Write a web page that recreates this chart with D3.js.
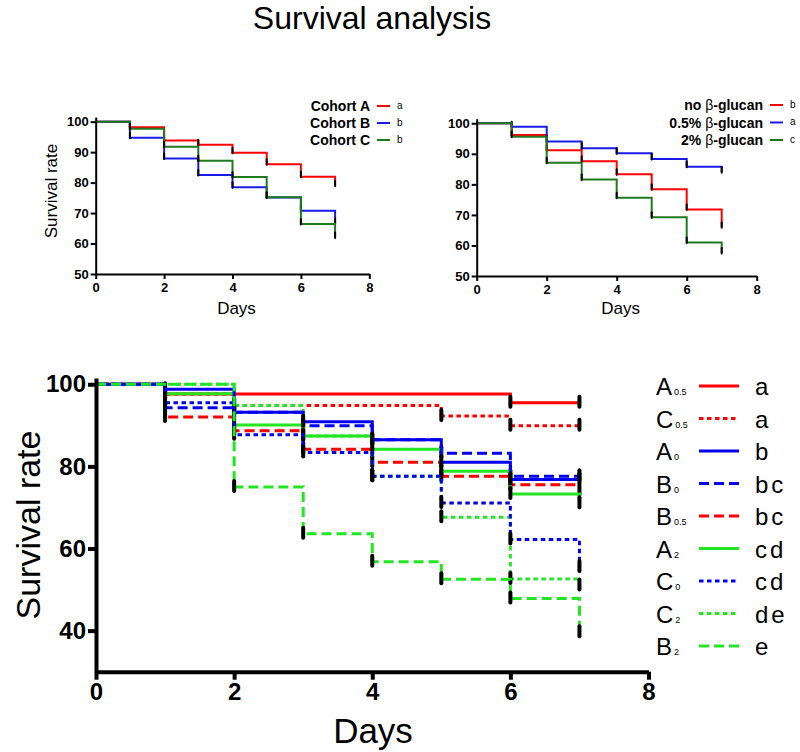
<!DOCTYPE html>
<html><head><meta charset="utf-8">
<script src="https://cdn.jsdelivr.net/npm/d3@7"></script>
<style>
body{margin:0;background:#fff}
svg{display:block}
text{font-family:Arial,"Liberation Sans",sans-serif;fill:#000}
</style>
</head><body>
<svg id="chart" width="800" height="752"></svg>
<script>
// ---------- DATA ----------
// each series: value on [0,1), [1,2), ... [6,7), then final value at day 7
const stepDays = [0, 1, 2, 3, 4, 5, 6, 7];

// top-left panel
const cohortNames = ["Cohort A", "Cohort B", "Cohort C"];
const cohortLetters = ["a", "b", "b"];
const cohortA = [100, 98.2, 93.8, 92.4, 89.8, 86.0, 81.9, 79.0];
const cohortB = [100, 94.7, 87.9, 82.5, 78.5, 75.1, 70.8, 66.5];
const cohortC = [100, 97.7, 91.8, 87.2, 81.8, 75.2, 66.4, 62.0];

// top-right panel
const glucanNames = ["no \u03b2-glucan", "0.5% \u03b2-glucan", "2% \u03b2-glucan"];
const glucanLetters = ["b", "a", "c"];
const glucanNone = [100, 96.2, 91.2, 87.6, 83.3, 78.4, 71.8, 66.0];
const glucan05 = [100, 98.9, 94.0, 91.8, 90.2, 88.3, 85.8, 84.0];
const glucan2 = [100, 95.6, 87.1, 81.6, 75.6, 69.2, 61.0, 57.5];

// bottom panel (legend order)
const groupMain = ["A", "C", "A", "B", "B", "A", "C", "C", "B"];
const groupSub = ["0.5", "0.5", "0", "0", "0.5", "2", "0", "2", "2"];
const groupLetters = ["a", "a", "b", "bc", "bc", "cd", "cd", "de", "e"];
const A05 = [100, 97.6, 97.6, 97.6, 97.6, 97.6, 95.5, 95.5];
const C05 = [100, 97.6, 94.8, 94.8, 94.8, 92.3, 89.9, 89.9];
const A0 = [100, 98.8, 93.2, 90.9, 86.5, 81.0, 76.8, 76.8];
const B0 = [100, 94.3, 93.2, 89.9, 86.5, 83.2, 77.6, 77.6];
const B05 = [100, 92.0, 88.7, 84.2, 81.0, 77.6, 75.5, 74.0];
const A2 = [100, 97.7, 90.1, 87.4, 84.2, 78.8, 73.3, 71.0];
const C0 = [100, 95.5, 87.7, 83.4, 77.6, 71.1, 62.2, 55.5];
const C2 = [100, 100, 94.8, 87.4, 77.6, 67.6, 52.6, 51.0];
const B2 = [100, 100, 75.0, 63.6, 56.8, 52.5, 47.8, 39.6];

const topYTicks = [50, 60, 70, 80, 90, 100];
const bottomYTicks = [40, 60, 80, 100];
const xTicks = [0, 2, 4, 6, 8];

// ---------- DRAWING ----------
const svg = d3.select("#chart");
const RED = "#ff0000", BLUE = "#1a1ae6", DGREEN = "#1f7a1f";
const BRED = "#ff0000", BBLUE = "#0000f0", BGREEN = "#22e622";

svg.append("text").attr("x", 372).attr("y", 29).attr("text-anchor", "middle")
  .style("font-size", "32px").text("Survival analysis");

function drawSeries(g, x, y, vals, color, width, dash, tickW, tickUp, tickDown) {
  const pts = stepDays.map((d, i) => [d, vals[i]]);
  const line = d3.line().x(p => x(p[0])).y(p => y(p[1])).curve(d3.curveStepAfter);
  g.append("path").attr("d", line(pts)).attr("fill", "none")
    .attr("stroke", color).attr("stroke-width", width)
    .attr("stroke-dasharray", dash || null);
  const marks = [];
  for (let i = 1; i < pts.length; i++) {
    if (vals[i] < vals[i - 1] || i === pts.length - 1) marks.push(pts[i]);
  }
  g.selectAll(null).data(marks).enter().append("line")
    .attr("x1", p => x(p[0])).attr("x2", p => x(p[0]))
    .attr("y1", p => y(p[1]) - tickUp).attr("y2", p => y(p[1]) + tickDown)
    .attr("stroke", "#000").attr("stroke-width", tickW).attr("stroke-linecap", "round");
}

function topPanel(x0, x1, yBottom, yTop, series, colors, names, letters, legendRight, legendY, withYLabel) {
  const x = d3.scaleLinear().domain([0, 8]).range([x0, x1]);
  const y = d3.scaleLinear().domain([50, 101.5]).range([yBottom, yTop]);
  const g = svg.append("g");
  series.forEach((s, i) => drawSeries(g, x, y, s, colors[i], 2, null, 2, 5, 0.5));
  const ya = svg.append("g").attr("transform", `translate(${x0},0)`)
    .call(d3.axisLeft(y).tickValues(topYTicks).tickSize(5).tickSizeOuter(0).tickPadding(2));
  const xa = svg.append("g").attr("transform", `translate(0,${yBottom})`)
    .call(d3.axisBottom(x).tickValues(xTicks).tickSize(5).tickSizeOuter(0).tickPadding(4));
  [ya, xa].forEach(a => {
    a.select(".domain").attr("stroke", "#000").attr("stroke-width", 2);
    a.selectAll(".tick line").attr("stroke", "#000").attr("stroke-width", 2);
    a.selectAll(".tick text").style("font-size", "13px").style("font-weight", "bold")
      .style("font-family", "Arial, 'Liberation Sans', sans-serif").attr("fill", "#000");
  });
  svg.append("text").attr("x", (x0 + x1) / 2 + 4).attr("y", 314).attr("text-anchor", "middle")
    .style("font-size", "17px").text("Days");
  if (withYLabel) {
    svg.append("text").attr("transform", `translate(57,191) rotate(-90)`).attr("text-anchor", "middle")
      .style("font-size", "17px").text("Survival rate");
  }
  names.forEach((n, i) => {
    const ly = legendY[i];
    const parts = n.split("\u03b2");
    const t = svg.append("text").attr("x", legendRight).attr("y", ly + 5).attr("text-anchor", "end")
      .style("font-size", "14px").style("font-weight", "bold");
    if (parts.length > 1) {
      t.append("tspan").text(parts[0]);
      t.append("tspan").style("font-weight", "normal").text("\u03b2");
      t.append("tspan").text(parts[1]);
    } else t.text(n);
    svg.append("line").attr("x1", legendRight + 7).attr("x2", legendRight + 20)
      .attr("y1", ly).attr("y2", ly).attr("stroke", colors[i]).attr("stroke-width", 2);
    svg.append("text").attr("x", legendRight + 27).attr("y", ly + 2.5)
      .style("font-size", "10px").text(letters[i]);
  });
}

topPanel(95.7, 369.3, 274, 117.1, [cohortA, cohortB, cohortC], [RED, BLUE, DGREEN],
  cohortNames, cohortLetters, 370, [106, 123, 140], true);
topPanel(476.7, 756.7, 276, 118.7, [glucanNone, glucan05, glucan2], [RED, BLUE, DGREEN],
  glucanNames, glucanLetters, 763, [105, 122.5, 140], false);

// bottom panel
(function () {
  const x = d3.scaleLinear().domain([0, 8]).range([96, 648.5]);
  const y = d3.scaleLinear().domain([30, 101.5]).range([671.7, 378.1]);
  const series = [A05, C05, A0, B0, B05, A2, C0, C2, B2];
  const colors = [BRED, BRED, BBLUE, BBLUE, BRED, BGREEN, BBLUE, BGREEN, BGREEN];
  const dashes = [null, "4.5,3.5", null, "10,5", "10,5", null, "4.5,3.5", "4.5,3.5", "10,5"];
  const drawOrder = [0, 1, 4, 3, 7, 5, 2, 6, 8];
  const g = svg.append("g");
  drawOrder.forEach(i => drawSeries(g, x, y, series[i], colors[i], 3, dashes[i], 4, 6, 4));

  const ya = svg.append("g").attr("transform", "translate(96,0)")
    .call(d3.axisLeft(y).tickValues(bottomYTicks).tickSize(8).tickSizeOuter(0).tickPadding(2));
  const xa = svg.append("g").attr("transform", "translate(0,671.7)")
    .call(d3.axisBottom(x).tickValues(xTicks).tickSize(8).tickSizeOuter(0).tickPadding(3));
  [ya, xa].forEach(a => {
    a.select(".domain").attr("stroke", "#000").attr("stroke-width", 4);
    a.selectAll(".tick line").attr("stroke", "#000").attr("stroke-width", 4);
    a.selectAll(".tick text").style("font-size", "24px").style("font-weight", "bold")
      .style("font-family", "Arial, 'Liberation Sans', sans-serif").attr("fill", "#000");
  });
  svg.append("text").attr("x", 373).attr("y", 743).attr("text-anchor", "middle")
    .style("font-size", "35px").text("Days");
  svg.append("text").attr("transform", "translate(40,525) rotate(-90)").attr("text-anchor", "middle")
    .style("font-size", "34px").text("Survival rate");

  groupMain.forEach((m, i) => {
    const ly = 386 + i * 32.5;
    const t = svg.append("text").attr("x", 656).attr("y", ly + 9).style("font-size", "24px");
    t.append("tspan").text(m);
    t.append("tspan").attr("dx", 2).style("font-size", "9px").text(groupSub[i]);
    svg.append("line").attr("x1", 699).attr("x2", 739).attr("y1", ly).attr("y2", ly)
      .attr("stroke", colors[i]).attr("stroke-width", 3).attr("stroke-dasharray", dashes[i]);
    svg.append("text").attr("x", 755).attr("y", ly + 9).style("font-size", "24px")
      .style("letter-spacing", "3px").text(groupLetters[i]);
  });
})();
</script>
</body></html>
